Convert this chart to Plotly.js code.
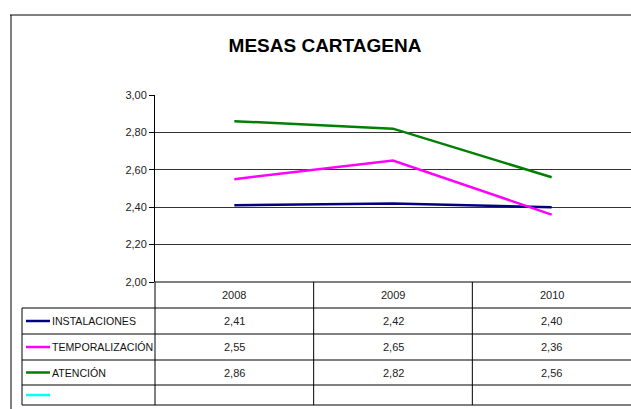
<!DOCTYPE html>
<html>
<head>
<meta charset="utf-8">
<script src="https://cdn.plot.ly/plotly-3.0.1.min.js"></script>
<style>html,body{margin:0;padding:0;background:#fff}#chart{width:631px;height:409px}</style>
</head>
<body>
<div id="chart"></div>
<script>
const categories = ['2008', '2009', '2010'];
const seriesNames = ['INSTALACIONES', 'TEMPORALIZACIÓN', 'ATENCIÓN', ''];
const instalaciones = [2.41, 2.42, 2.40];
const temporalizacion = [2.55, 2.65, 2.36];
const atencion = [2.86, 2.82, 2.56];
const serie4 = [null, null, null];
const seriesValues = [instalaciones, temporalizacion, atencion, serie4];
const seriesColors = ['#000080', '#FF00FF', '#008000', '#00FFFF'];
const yTickVals = [2.0, 2.2, 2.4, 2.6, 2.8, 3.0];
const chartTitle = 'MESAS CARTAGENA';

const W = 631, H = 409, L = 155, R = 631, T = 95, B = 282;
const FONT = '"Liberation Sans Narrow", "Arial Narrow", "Liberation Sans", Arial, sans-serif';
const px = x => (x - L) / (R - L);
const py = y => (B - y) / (B - T);
const nCat = categories.length;
const catPx = i => px(L + (i + 0.5) * (R - L) / nCat);
const fmt = v => (v === null || v === undefined) ? '' : v.toFixed(2).replace('.', ',');

const traces = seriesValues.map((vals, i) => ({
  type: 'scatter', mode: 'lines', x: categories, y: vals,
  name: seriesNames[i], line: {color: seriesColors[i], width: 2.5},
  showlegend: false, hoverinfo: 'skip'
}));

const shapes = [];
const annotations = [];
const lineStyle = {color: '#000', width: 1};
function hline(x0, x1, y) {
  shapes.push({type: 'line', xref: 'paper', yref: 'paper', x0: px(x0), x1: px(x1), y0: py(y), y1: py(y), line: lineStyle});
}
function vline(x, y0, y1) {
  shapes.push({type: 'line', xref: 'paper', yref: 'paper', x0: px(x), x1: px(x), y0: py(y0), y1: py(y1), line: lineStyle});
}
// outer frame
hline(10, 631, 15);
vline(11, 15, 409);
// data table grid
hline(L, 631, B);
const rowEdges = [308, 334, 360, 385, 405];
rowEdges.forEach(y => hline(22, 631, y));
vline(22, 308, 405);
for (let i = 0; i < nCat; i++) {
  vline(L + i * (R - L) / nCat, B, 405);
}
// header (categories)
categories.forEach((c, i) => {
  annotations.push({xref: 'paper', yref: 'paper', x: catPx(i), y: py((B + 308) / 2),
    text: c, showarrow: false, xanchor: 'center', yanchor: 'middle',
    font: {family: FONT, size: 11, color: '#222'}});
});
// rows
seriesNames.forEach((name, r) => {
  const yc = (rowEdges[r] + rowEdges[r + 1]) / 2;
  shapes.push({type: 'line', xref: 'paper', yref: 'paper', x0: px(26), x1: px(50), y0: py(yc), y1: py(yc),
    line: {color: seriesColors[r], width: 2.5}});
  if (name) {
    annotations.push({xref: 'paper', yref: 'paper', x: px(50), y: py(yc), text: name, showarrow: false,
      xanchor: 'left', yanchor: 'middle', font: {family: FONT, size: 10.6, color: '#111'}});
  }
  seriesValues[r].forEach((v, i) => {
    const t = fmt(v);
    if (t) annotations.push({xref: 'paper', yref: 'paper', x: catPx(i), y: py(yc), text: t, showarrow: false,
      xanchor: 'center', yanchor: 'middle', font: {family: FONT, size: 11, color: '#222'}});
  });
});

const layout = {
  width: W, height: H,
  margin: {l: L, r: W - R, t: T, b: H - B, pad: 0},
  paper_bgcolor: '#fff', plot_bgcolor: '#fff',
  separators: ',.',
  title: {text: '<b>' + chartTitle + '</b>', x: 325 / W, xanchor: 'center', xref: 'container',
    y: 1 - 45 / H, yanchor: 'middle', yref: 'container',
    font: {family: FONT, size: 19, color: '#000'}},
  xaxis: {type: 'category', range: [-0.5, nCat - 0.5], showticklabels: false, ticks: '',
    showgrid: false, zeroline: false, showline: false, fixedrange: true},
  yaxis: {range: [2.0, 3.0], tickvals: yTickVals, tickformat: '.2f', ticks: 'outside', ticklen: 5,
    tickcolor: '#000', showline: true, linecolor: '#000', linewidth: 1,
    showgrid: true, gridcolor: '#333', gridwidth: 1, zeroline: false,
    tickfont: {family: FONT, size: 11, color: '#222'}, fixedrange: true},
  shapes: shapes,
  annotations: annotations,
  showlegend: false
};

Plotly.newPlot('chart', traces, layout, {displayModeBar: false, staticPlot: true});
</script>
</body>
</html>
